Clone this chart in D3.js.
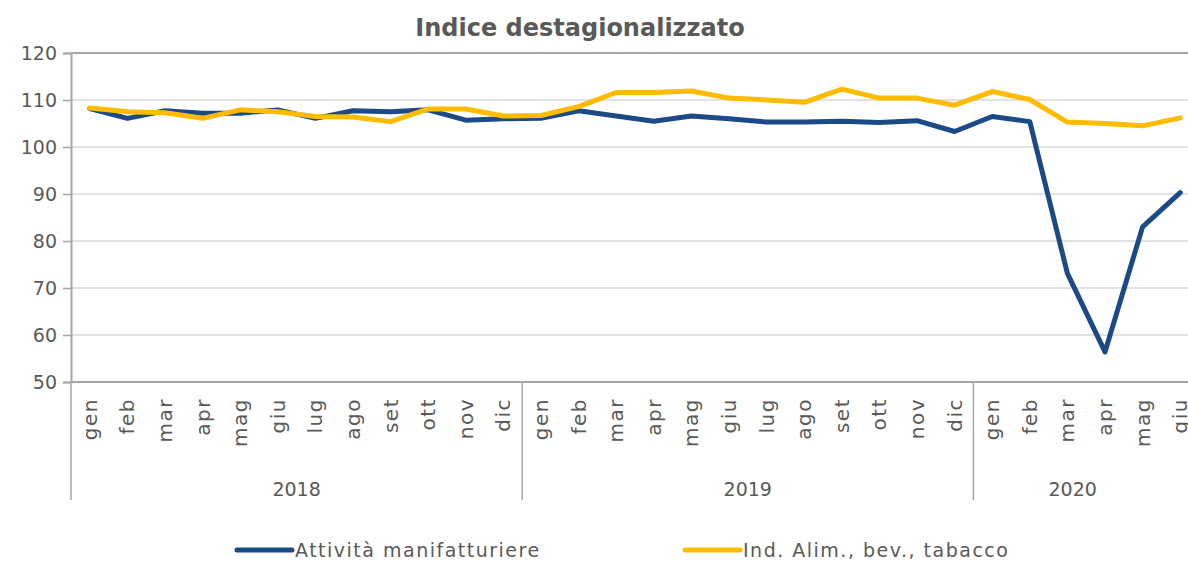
<!DOCTYPE html>
<html>
<head>
<meta charset="utf-8">
<script src="https://cdn.jsdelivr.net/npm/d3@7"></script>
<style>
body { margin: 0; background: #fff; }
svg text { font-family: "DejaVu Sans", sans-serif; fill: #595959; }
</style>
</head>
<body>
<div id="chart"></div>
<script>
var years = ['2018', '2019', '2020'];
var months = ['gen','feb','mar','apr','mag','giu','lug','ago','set','ott','nov','dic'];
var monthsPerYear = [12, 12, 6];
var manifatturiere = [108.2,106.1,107.7,107.2,107.2,107.9,106.1,107.7,107.5,107.9,105.7,106.0,
                      106.1,107.7,106.6,105.5,106.6,106.0,105.3,105.3,105.5,105.2,105.6,103.3,
                      106.5,105.4,73.1,56.4,83.0,90.3];
var alimentari = [108.3,107.5,107.3,106.1,107.9,107.5,106.5,106.4,105.4,108.1,108.1,106.6,
                  106.7,108.6,111.6,111.6,111.9,110.4,110.0,109.5,112.3,110.4,110.4,108.9,
                  111.8,110.1,105.3,105.0,104.5,106.2];
var yTicks = [50,60,70,80,90,100,110,120];
var seriesNames = ['Attività manifatturiere', 'Ind. Alim., bev., tabacco'];
var seriesColors = ['#1b4a87', '#ffbb00'];

// categorie: una per mese
var cats = [];
years.forEach(function(y, i) {
  for (var m = 0; m < monthsPerYear[i]; m++) cats.push({ year: y, month: months[m], key: y + '-' + m });
});

var W = 1188, H = 562;
var margin = { left: 71, top: 53, right: 1199, bottom: 382 };

var svg = d3.select('#chart').append('svg').attr('width', W).attr('height', H);

var x = d3.scaleBand().domain(cats.map(function(d){ return d.key; })).range([margin.left, margin.right]);
var y = d3.scaleLinear().domain([50, 120]).range([margin.bottom, margin.top]);

// griglia
svg.append('g').selectAll('line').data(yTicks.slice(1)).enter().append('line')
  .attr('x1', margin.left).attr('x2', margin.right)
  .attr('y1', function(d){ return y(d); }).attr('y2', function(d){ return y(d); })
  .attr('stroke', function(d){ return d === 120 ? '#a6a6a6' : '#d9d9d9'; })
  .attr('stroke-width', function(d){ return d === 120 ? 2 : 1.3; });

// asse y
var yAxis = svg.append('g').attr('transform', 'translate(' + margin.left + ',0)')
  .call(d3.axisLeft(y).tickValues(yTicks).tickSize(8).tickPadding(6));
yAxis.select('.domain').attr('stroke', '#a6a6a6').attr('stroke-width', 2);
yAxis.selectAll('.tick line').attr('stroke', '#a6a6a6').attr('stroke-width', 1.5);
yAxis.selectAll('.tick text').style('font-size', '19px').attr('fill', '#595959');

// asse x
svg.append('line').attr('x1', margin.left).attr('x2', margin.right)
  .attr('y1', margin.bottom).attr('y2', margin.bottom)
  .attr('stroke', '#a6a6a6').attr('stroke-width', 2);

svg.append('g').selectAll('text').data(cats).enter().append('text')
  .attr('transform', function(d){ return 'translate(' + (x(d.key) + x.bandwidth() / 2 + 7) + ',' + (margin.bottom + 16) + ') rotate(-90)'; })
  .attr('text-anchor', 'end')
  .style('font-size', '20px').style('letter-spacing', '1.5px')
  .text(function(d){ return d.month; });

// separatori anni e etichette
var start = 0;
years.forEach(function(yr, i) {
  var first = cats[start], last = cats[start + monthsPerYear[i] - 1];
  var x0 = x(first.key), x1 = x(last.key) + x.bandwidth();
  svg.append('line').attr('x1', x0).attr('x2', x0).attr('y1', margin.bottom).attr('y2', 500)
    .attr('stroke', '#a6a6a6').attr('stroke-width', 1.5);
  svg.append('text').attr('x', (x0 + Math.min(x1, W)) / 2 + (i === 2 ? -8 : 0)).attr('y', 496)
    .attr('text-anchor', 'middle').style('font-size', '19px').text(yr);
  start += monthsPerYear[i];
});

// linee
var line = d3.line()
  .x(function(d, i){ return x(cats[i].key) + x.bandwidth() / 2; })
  .y(function(d){ return y(d); });

[manifatturiere, alimentari].forEach(function(s, i) {
  svg.append('path').datum(s).attr('d', line)
    .attr('fill', 'none').attr('stroke', seriesColors[i]).attr('stroke-width', 5)
    .attr('stroke-linejoin', 'round').attr('stroke-linecap', 'round');
});

// titolo
svg.append('text').attr('x', 580).attr('y', 36).attr('text-anchor', 'middle')
  .style('font-size', '24px').style('font-weight', 'bold').text('Indice destagionalizzato');

// legenda
var legX = [237, 685];
seriesNames.forEach(function(n, i) {
  svg.append('line').attr('x1', legX[i]).attr('x2', legX[i] + 55).attr('y1', 550).attr('y2', 550)
    .attr('stroke', seriesColors[i]).attr('stroke-width', 5).attr('stroke-linecap', 'round');
  svg.append('text').attr('x', legX[i] + 58).attr('y', 557).style('font-size', '19px')
    .style('letter-spacing', '1.5px').text(n);
});
</script>
</body>
</html>
